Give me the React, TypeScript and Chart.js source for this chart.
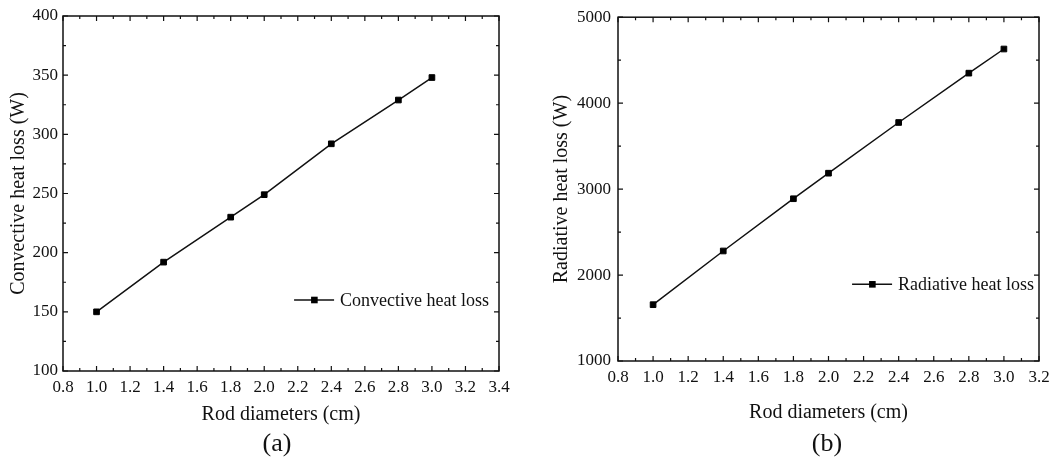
import React, { useEffect, useRef } from "react";
import { Chart, registerables } from "chart.js";

Chart.register(...registerables);

const diameters = [1.0, 1.4, 1.8, 2.0, 2.4, 2.8, 3.0];
const convectiveLoss = [150, 192, 230, 249, 292, 329, 348];
const radiativeLoss = [1655, 2280, 2888, 3185, 3775, 4349, 4630];

const xTitle = "Rod diameters (cm)";
const leftYTitle = "Convective heat loss (W)";
const rightYTitle = "Radiative heat loss (W)";
const leftLabel = "Convective heat loss";
const rightLabel = "Radiative heat loss";

const FONT = "'Liberation Serif', 'Times New Roman', serif";
const INK = "#111";

const framePlugin = {
  id: "frameTicks",
  afterDraw(chart: any, _args: any, opts: any) {
    const { ctx, chartArea } = chart;
    const xs = chart.scales.x;
    const ys = chart.scales.y;
    const { left, right, top, bottom } = chartArea;
    ctx.save();
    ctx.strokeStyle = INK;
    ctx.lineWidth = 1.5;
    ctx.strokeRect(left, top, right - left, bottom - top);
    ctx.lineWidth = 1.2;
    const eps = 1e-9;
    const xMin = xs.min, xMax = xs.max, xStep = opts.xMinor;
    let i = 0;
    for (let v = xMin; v <= xMax + eps; v = xMin + (++i) * xStep) {
      const px = xs.getPixelForValue(v);
      const major = i % 2 === 0;
      const len = major ? 5 : 3;
      ctx.beginPath();
      ctx.moveTo(px, bottom);
      ctx.lineTo(px, bottom - len);
      ctx.moveTo(px, top);
      ctx.lineTo(px, top + len);
      ctx.stroke();
    }
    const yMin = ys.min, yMax = ys.max, yStep = opts.yMinor;
    i = 0;
    for (let v = yMin; v <= yMax + eps; v = yMin + (++i) * yStep) {
      const py = ys.getPixelForValue(v);
      const major = i % 2 === 0;
      const len = major ? 5 : 3;
      ctx.beginPath();
      ctx.moveTo(left, py);
      ctx.lineTo(left + len, py);
      ctx.moveTo(right, py);
      ctx.lineTo(right - len, py);
      ctx.stroke();
    }
    const ds = chart.data.datasets[0];
    const lx = left + opts.legendX * (right - left);
    const ly = top + opts.legendY * (bottom - top);
    ctx.lineWidth = 1.5;
    ctx.strokeStyle = INK;
    ctx.beginPath();
    ctx.moveTo(lx, ly);
    ctx.lineTo(lx + 40, ly);
    ctx.stroke();
    ctx.fillStyle = "#000";
    ctx.fillRect(lx + 17, ly - 3.3, 6.6, 6.6);
    ctx.font = `18px ${FONT}`;
    ctx.fillStyle = INK;
    ctx.textBaseline = "middle";
    ctx.textAlign = "left";
    ctx.fillText(ds.label, lx + 46, ly + 1);
    ctx.restore();
  },
};

function makeConfig(p: any) {
  return {
    type: "line",
    data: {
      datasets: [
        {
          label: p.label,
          data: diameters.map((d, k) => ({ x: d, y: p.values[k] })),
          borderColor: INK,
          borderWidth: 1.5,
          backgroundColor: "#000",
          pointStyle: "rect",
          pointRadius: 4,
          pointBorderWidth: 1,
          pointBorderColor: "#000",
          pointBackgroundColor: "#000",
          tension: 0,
        },
      ],
    },
    options: {
      responsive: false,
      animation: false,
      layout: { padding: { left: 0, right: p.padRight, top: p.padTop, bottom: 0 } },
      plugins: {
        legend: { display: false },
        tooltip: { enabled: false },
        frameTicks: { xMinor: 0.1, yMinor: p.yMinor, legendX: p.legendX, legendY: p.legendY },
      },
      scales: {
        x: {
          type: "linear",
          min: 0.8,
          max: p.xMax,
          grid: { display: false, drawTicks: false },
          border: { display: false },
          ticks: {
            stepSize: 0.2,
            padding: 6,
            color: INK,
            font: { family: FONT, size: 17 },
            callback: (v: number) => Number(v).toFixed(1),
          },
          title: {
            display: true,
            text: xTitle,
            color: INK,
            font: { family: FONT, size: 20 },
            padding: { top: 0, bottom: p.xTitlePad },
          },
          afterFit: (s: any) => {
            s.height = p.xHeight;
          },
        },
        y: {
          min: p.yMin,
          max: p.yMax,
          grid: { display: false, drawTicks: false },
          border: { display: false },
          ticks: {
            stepSize: p.yStep,
            padding: p.yLabelPad,
            color: INK,
            font: { family: FONT, size: 17 },
            callback: (v: number) => String(Math.round(Number(v))),
          },
          title: {
            display: true,
            text: p.yTitle,
            color: INK,
            font: { family: FONT, size: 20 },
            padding: { top: p.yTitlePad, bottom: 0 },
          },
          afterFit: (s: any) => {
            s.width = p.yWidth;
          },
        },
      },
    },
    plugins: [framePlugin],
  };
}

function Panel(props: any) {
  const ref = useRef<HTMLCanvasElement>(null);
  useEffect(() => {
    const chart = new Chart(ref.current as any, makeConfig(props) as any);
    return () => chart.destroy();
  }, []);
  return (
    <canvas
      ref={ref}
      width={props.w}
      height={459}
      style={{ position: "absolute", left: props.x, top: 0, width: props.w, height: 459 }}
    />
  );
}

const captionStyle: any = {
  position: "absolute",
  top: 428,
  width: 100,
  height: 30,
  lineHeight: "30px",
  textAlign: "center",
  fontFamily: FONT,
  fontSize: 26,
  color: INK,
};

export default function App() {
  return (
    <div style={{ position: "absolute", left: 0, top: 0, width: 1064, height: 459, background: "#fff", overflow: "hidden" }}>
      <Panel
        x={0}
        w={530}
        label={leftLabel}
        values={convectiveLoss}
        xMax={3.4}
        yMin={100}
        yMax={400}
        yStep={50}
        yMinor={25}
        yTitle={leftYTitle}
        padRight={31}
        padTop={16}
        xHeight={88}
        yWidth={63}
        yLabelPad={5}
        yTitlePad={7}
        xTitlePad={32}
        legendX={0.53}
        legendY={0.8}
      />
      <Panel
        x={530}
        w={534}
        label={rightLabel}
        values={radiativeLoss}
        xMax={3.2}
        yMin={1000}
        yMax={5000}
        yStep={1000}
        yMinor={500}
        yTitle={rightYTitle}
        padRight={25}
        padTop={15}
        xHeight={98}
        yWidth={88}
        yLabelPad={7}
        yTitlePad={20}
        xTitlePad={34}
        legendX={0.556}
        legendY={0.777}
      />
      <div style={{ ...captionStyle, left: 227 }}>(a)</div>
      <div style={{ ...captionStyle, left: 777 }}>(b)</div>
    </div>
  );
}
